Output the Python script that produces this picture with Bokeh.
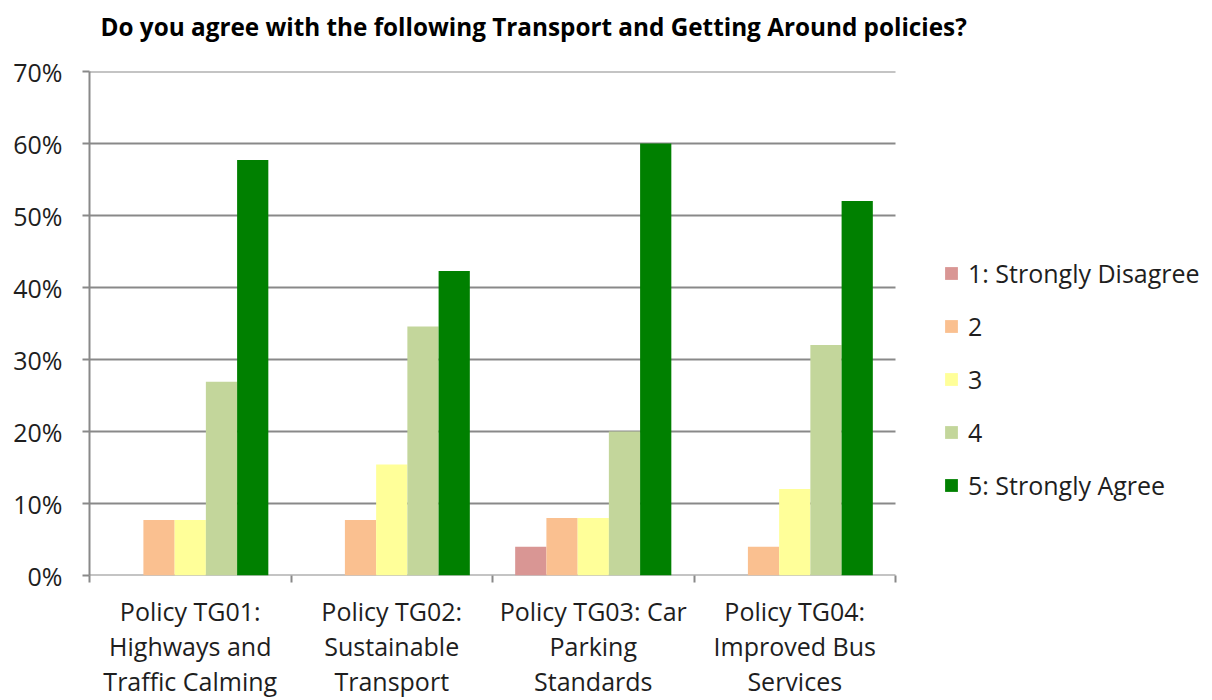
from bokeh.plotting import figure
from bokeh.models import ColumnDataSource, FixedTicker, NumeralTickFormatter, Legend, LegendItem, Range1d, Title
from bokeh.embed import file_html
from bokeh.resources import INLINE

# ---- data ----
categories = [
    "Policy TG01:\nHighways and\nTraffic Calming",
    "Policy TG02:\nSustainable\nTransport",
    "Policy TG03: Car\nParking\nStandards",
    "Policy TG04:\nImproved Bus\nServices",
]
series = ["1: Strongly Disagree", "2", "3", "4", "5: Strongly Agree"]
s1_strongly_disagree = [0.0, 0.0, 0.04, 0.0]
s2 = [0.077, 0.077, 0.08, 0.04]
s3 = [0.077, 0.154, 0.08, 0.12]
s4 = [0.269, 0.346, 0.20, 0.32]
s5_strongly_agree = [0.577, 0.423, 0.60, 0.52]
y_ticks = [0.0, 0.1, 0.2, 0.3, 0.4, 0.5, 0.6, 0.7]
title_text = "Do you agree with the following Transport and Getting Around policies?"

# ---- style / layout ----
colors = ["#D99694", "#FAC090", "#FFFF99", "#C3D69B", "#008000"]
FONT = "Open Sans"
TXT = "#1e1e1e"
GRID = "#898989"
Y_MAX = 0.7
BAR_W = 0.155
W, H = 1212, 700
LEFT, TOP, BOTTOM = 89, 71, 124
PLOT_W = 806                      # pixel width of the bar area
N = len(categories)
X_END = N * (W - LEFT) / PLOT_W   # frame also hosts the legend on the right

p = figure(
    width=W, height=H,
    min_border_left=LEFT, min_border_right=0, min_border_top=TOP, min_border_bottom=BOTTOM,
    x_range=Range1d(0, X_END), y_range=Range1d(0, Y_MAX),
    output_backend="svg", toolbar_location=None,
)
p.outline_line_color = None
p.background_fill_color = "white"

# spacer (closest to frame) then the real title
p.add_layout(Title(text=" ", text_font_size="11px"), "above")
p.add_layout(Title(text=title_text, text_font=FONT, text_font_style="bold",
                   text_font_size="24.3px", text_color="black",
                   align="left", offset=11), "above")

# horizontal gridlines limited to the bar area (includes the 0% baseline)
p.segment(x0=[0] * len(y_ticks), x1=[N] * len(y_ticks), y0=y_ticks, y1=y_ticks,
          line_color=GRID, line_width=2)

all_series = [s1_strongly_disagree, s2, s3, s4, s5_strongly_agree]
items = []
for k, vals in enumerate(all_series):
    src = ColumnDataSource(dict(
        x=[i + 0.5 + (k - 2) * BAR_W for i in range(N)],
        top=vals,
    ))
    r = p.vbar(x="x", top="top", width=BAR_W, source=src,
               fill_color=colors[k], line_color=None)
    items.append(LegendItem(label=series[k], renderers=[r]))

# y axis
ya = p.yaxis[0]
ya.ticker = FixedTicker(ticks=y_ticks)
ya.formatter = NumeralTickFormatter(format="0%")
ya.major_label_text_font = FONT
ya.major_label_text_font_size = "25px"
ya.major_label_text_color = TXT
ya.major_tick_out = 7
ya.major_tick_in = 0
ya.minor_tick_line_color = None
ya.axis_line_color = GRID
ya.axis_line_width = 2
ya.major_tick_line_color = GRID
ya.major_tick_line_width = 2
ya.major_label_standoff = 20

# x axis: boundary ticks as minor ticks, category names as major labels
xa = p.xaxis[0]
centers = [i + 0.5 for i in range(N)]
xa.ticker = FixedTicker(ticks=centers, minor_ticks=list(range(N + 1)))
xa.major_label_overrides = {c: cat for c, cat in zip(centers, categories)}
xa.minor_tick_out = 7
xa.minor_tick_in = 0
xa.minor_tick_line_color = GRID
xa.minor_tick_line_width = 2
xa.major_tick_out = 0
xa.major_tick_in = 0
xa.major_tick_line_color = None
xa.axis_line_color = None
xa.major_label_text_font = FONT
xa.major_label_text_font_size = "25px"
xa.major_label_text_color = TXT
xa.major_label_text_line_height = 1.03
xa.major_label_standoff = 11

p.xgrid.grid_line_color = None
p.ygrid.grid_line_color = None

legend = Legend(items=items, location=(854, 73))
legend.glyph_width = 16
legend.glyph_height = 16
legend.label_text_font = FONT
legend.label_text_font_size = "25px"
legend.label_text_color = TXT
legend.label_standoff = 9
legend.spacing = 19
legend.padding = 0
legend.margin = 0
legend.border_line_alpha = 0
legend.background_fill_alpha = 0
p.add_layout(legend)

open("out.html", "w").write(file_html(p, INLINE))
